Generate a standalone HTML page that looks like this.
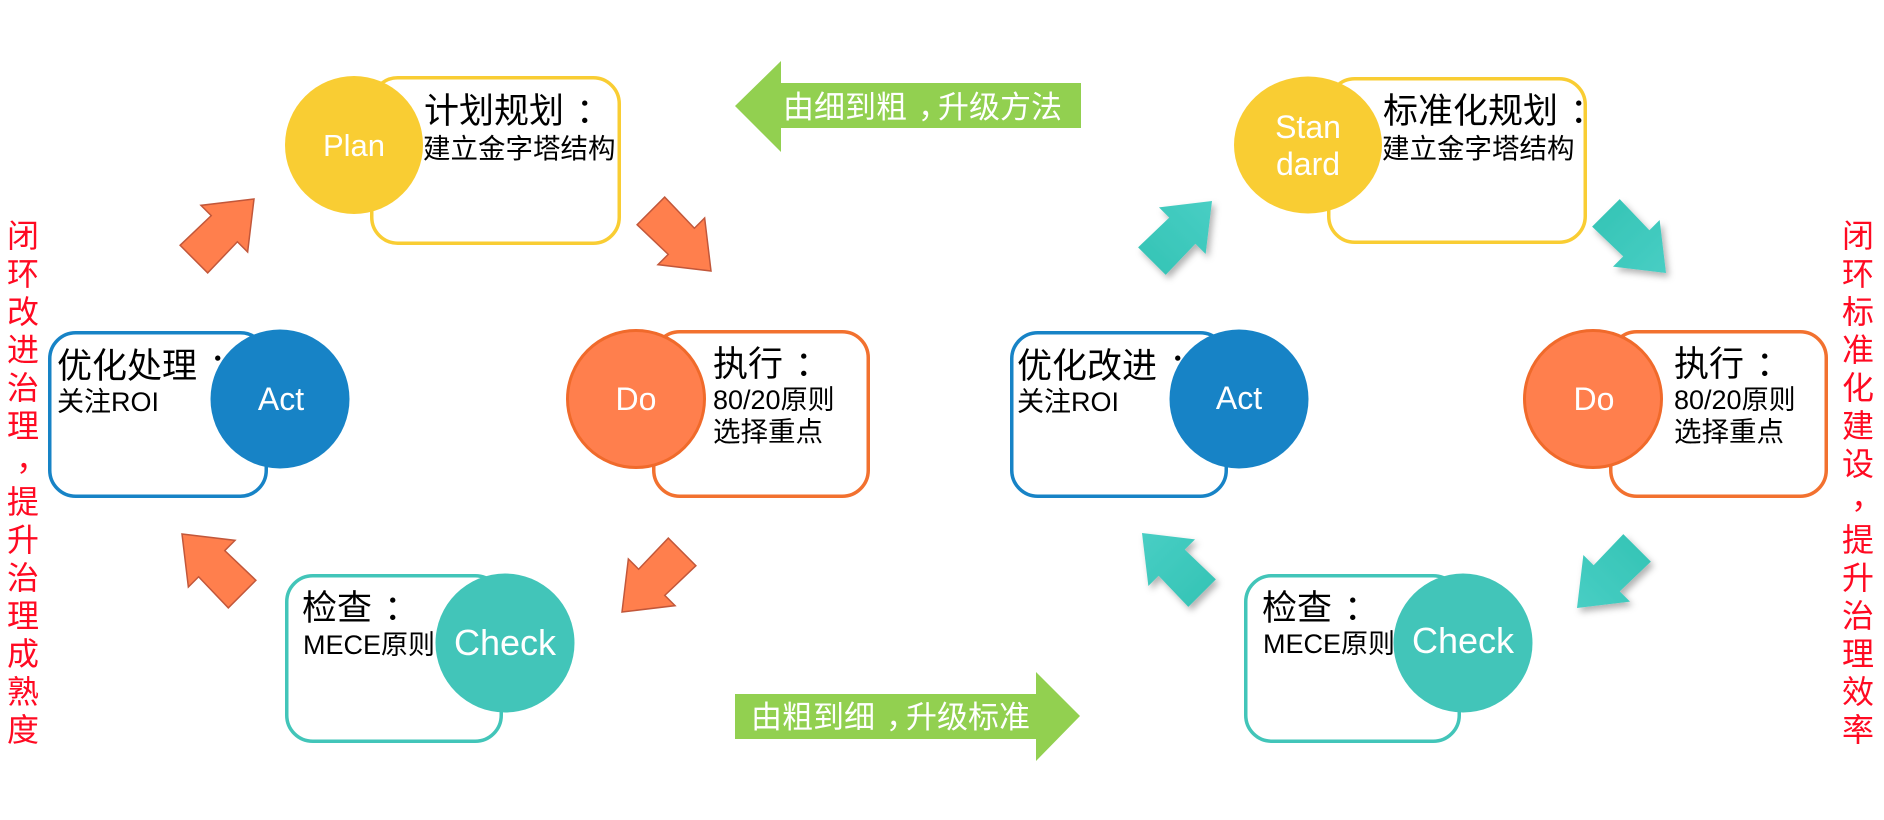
<!DOCTYPE html>
<html>
<head>
<meta charset="utf-8">
<style>
  html,body{margin:0;padding:0;background:#fff;}
  svg{display:block;}
  .cj{font-family:"Liberation Sans","Noto Sans CJK SC",sans-serif;fill:#000;}
  .en{font-family:"Liberation Sans",sans-serif;fill:#fff;}
  .rd{font-family:"Liberation Sans","Noto Sans CJK SC",sans-serif;fill:#FF0A22;font-size:32px;}
  .gn{font-family:"Liberation Sans","Noto Sans CJK SC",sans-serif;fill:#fff;font-size:31px;}
</style>
</head>
<body>
<svg width="1884" height="820" viewBox="0 0 1884 820" xmlns="http://www.w3.org/2000/svg">
  <defs>
    <polygon id="arr" points="0,0 -42,-33 -42,-18.5 -85,-19.5 -85,19.5 -42,18.5 -42,33"/>
    <linearGradient id="tg" x1="0" y1="0" x2="1" y2="0">
      <stop offset="0" stop-color="#37C5B7"/>
      <stop offset="1" stop-color="#48CEC4"/>
    </linearGradient>
    <filter id="sh" x="-30%" y="-30%" width="170%" height="170%">
      <feDropShadow dx="3" dy="4" stdDeviation="3.5" flood-color="#000" flood-opacity="0.3"/>
    </filter>
  </defs>
  <rect width="1884" height="820" fill="#fff"/>

  <!-- Green arrows -->
  <polygon points="735,106 781,61 781,83 1081,83 1081,128 781,128 781,152" fill="#92D050"/>
  <text class="gn" x="783" y="118">由细到粗<tspan dx="11">，</tspan><tspan dx="-11">升级方法</tspan></text>
  <polygon points="735,694 1036,694 1036,672 1080,716 1036,761 1036,739 735,739" fill="#92D050"/>
  <text class="gn" x="751" y="728">由粗到细<tspan dx="11">，</tspan><tspan dx="-11">升级标准</tspan></text>

  <!-- boxes -->
  <g fill="#fff" stroke-width="3.5">
    <rect x="371.75" y="77.75" width="247.5" height="165.5" rx="26" stroke="#F9CD33"/>
    <rect x="653.75" y="331.75" width="214.5" height="164.5" rx="26" stroke="#F2712F"/>
    <rect x="49.75" y="332.75" width="216.5" height="163.5" rx="26" stroke="#1783C6"/>
    <rect x="286.75" y="575.75" width="214.5" height="165.5" rx="26" stroke="#42C5B9"/>
    <rect x="1328.75" y="78.75" width="256.5" height="163.5" rx="26" stroke="#F9CD33"/>
    <rect x="1610.75" y="331.75" width="215.5" height="164.5" rx="26" stroke="#F2712F"/>
    <rect x="1011.75" y="332.75" width="214.5" height="163.5" rx="26" stroke="#1783C6"/>
    <rect x="1245.75" y="575.75" width="213.5" height="165.5" rx="26" stroke="#42C5B9"/>
  </g>

  <!-- box texts left -->
  <text class="cj" x="424" y="123" font-size="35">计划规划<tspan dx="12">：</tspan></text>
  <text class="cj" x="423" y="158" font-size="27.5">建立金字塔结构</text>
  <text class="cj" x="713" y="376" font-size="35">执行<tspan dx="12">：</tspan></text>
  <text class="cj" x="713" y="409" font-size="27">80/20原则</text>
  <text class="cj" x="713" y="441" font-size="27.5">选择重点</text>
  <text class="cj" x="57" y="378" font-size="35">优化处理<tspan dx="12">：</tspan></text>
  <text class="cj" x="57" y="411" font-size="27">关注ROI</text>
  <text class="cj" x="302" y="620" font-size="35">检查<tspan dx="12">：</tspan></text>
  <text class="cj" x="303" y="654" font-size="27">MECE原则</text>

  <!-- box texts right -->
  <text class="cj" x="1383" y="123" font-size="35">标准化规划<tspan dx="12">：</tspan></text>
  <text class="cj" x="1382" y="158" font-size="27.5">建立金字塔结构</text>
  <text class="cj" x="1674" y="376" font-size="35">执行<tspan dx="12">：</tspan></text>
  <text class="cj" x="1674" y="409" font-size="27">80/20原则</text>
  <text class="cj" x="1674" y="441" font-size="27.5">选择重点</text>
  <text class="cj" x="1017" y="378" font-size="35">优化改进<tspan dx="12">：</tspan></text>
  <text class="cj" x="1017" y="411" font-size="27">关注ROI</text>
  <text class="cj" x="1262" y="620" font-size="35">检查<tspan dx="12">：</tspan></text>
  <text class="cj" x="1263" y="653" font-size="27">MECE原则</text>

  <!-- circles -->
  <circle cx="354" cy="145" r="69" fill="#F9CD33"/>
  <circle cx="636" cy="399" r="68.5" fill="#FF7F4D" stroke="#F06A2B" stroke-width="3"/>
  <circle cx="280" cy="399" r="69.5" fill="#1783C6"/>
  <circle cx="505" cy="643" r="69.5" fill="#42C5B9"/>
  <ellipse cx="1308" cy="145" rx="74" ry="68.5" fill="#F9CD33"/>
  <circle cx="1593" cy="399" r="68.5" fill="#FF7F4D" stroke="#F06A2B" stroke-width="3"/>
  <circle cx="1239" cy="399" r="69.5" fill="#1783C6"/>
  <circle cx="1463" cy="643" r="69.5" fill="#42C5B9"/>

  <!-- circle labels -->
  <g class="en" text-anchor="middle">
    <text x="354" y="156" font-size="31">Plan</text>
    <text x="636" y="410" font-size="32">Do</text>
    <text x="281" y="410" font-size="32">Act</text>
    <text x="505" y="655" font-size="36">Check</text>
    <text x="1308" y="138" font-size="32">Stan</text>
    <text x="1308" y="175" font-size="32">dard</text>
    <text x="1594" y="410" font-size="32">Do</text>
    <text x="1239" y="409" font-size="32">Act</text>
    <text x="1463" y="653" font-size="36">Check</text>
  </g>

  <!-- orange arrows -->
  <g fill="#FF7F4D" stroke="#C2573A" stroke-width="1.5">
    <use href="#arr" transform="translate(254,199) rotate(-45)"/>
    <use href="#arr" transform="translate(711,271) rotate(45)"/>
    <use href="#arr" transform="translate(622,612) rotate(135)"/>
    <use href="#arr" transform="translate(182,534) rotate(-135)"/>
  </g>

  <!-- teal arrows -->
  <g fill="url(#tg)">
    <g filter="url(#sh)"><use href="#arr" transform="translate(1212,201) rotate(-45)"/></g>
    <g filter="url(#sh)"><use href="#arr" transform="translate(1666,273) rotate(45)"/></g>
    <g filter="url(#sh)"><use href="#arr" transform="translate(1577,608) rotate(135)"/></g>
    <g filter="url(#sh)"><use href="#arr" transform="translate(1142,533) rotate(-135)"/></g>
  </g>

  <!-- red vertical text left -->
  <g class="rd">
    <text x="7" y="247">闭</text>
    <text x="7" y="285">环</text>
    <text x="7" y="323">改</text>
    <text x="7" y="361">进</text>
    <text x="7" y="399">治</text>
    <text x="7" y="437">理</text>
    <text x="16" y="470">，</text>
    <text x="7" y="513">提</text>
    <text x="7" y="551">升</text>
    <text x="7" y="589">治</text>
    <text x="7" y="627">理</text>
    <text x="7" y="665">成</text>
    <text x="7" y="703">熟</text>
    <text x="7" y="741">度</text>
  </g>
  <!-- red vertical text right -->
  <g class="rd">
    <text x="1842" y="247">闭</text>
    <text x="1842" y="285">环</text>
    <text x="1842" y="323">标</text>
    <text x="1842" y="361">准</text>
    <text x="1842" y="399">化</text>
    <text x="1842" y="437">建</text>
    <text x="1842" y="475">设</text>
    <text x="1851" y="508">，</text>
    <text x="1842" y="551">提</text>
    <text x="1842" y="589">升</text>
    <text x="1842" y="627">治</text>
    <text x="1842" y="665">理</text>
    <text x="1842" y="703">效</text>
    <text x="1842" y="741">率</text>
  </g>
</svg>
</body>
</html>
